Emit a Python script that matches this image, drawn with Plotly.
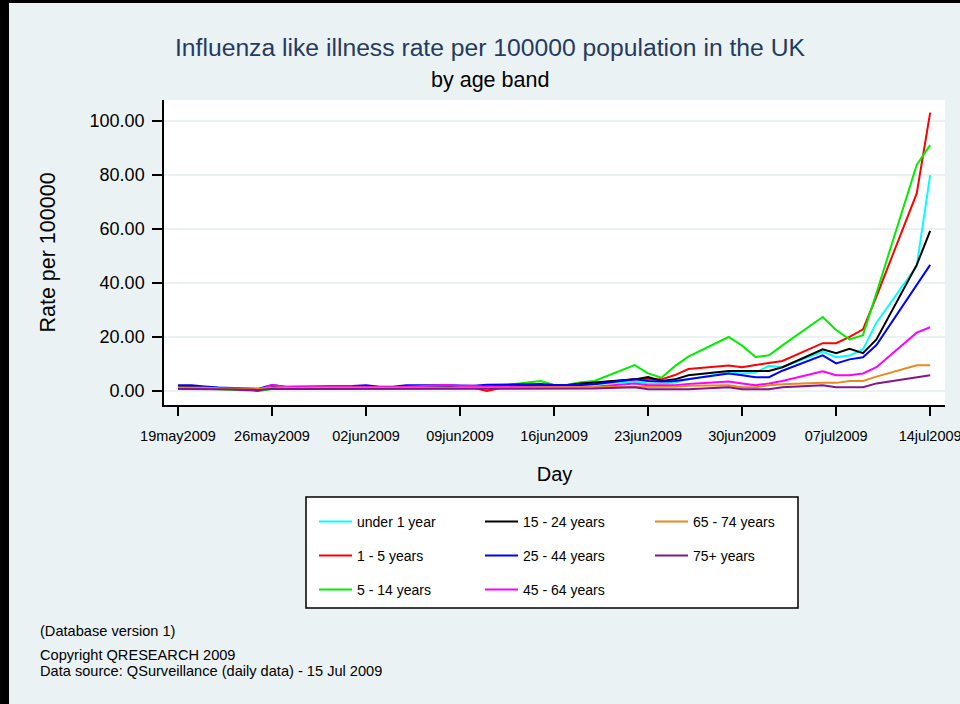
import plotly.graph_objects as go

# Weekday reporting dates (weekends are not reported)
dates = [
    "2009-05-19", "2009-05-20", "2009-05-21", "2009-05-22",
    "2009-05-25", "2009-05-26", "2009-05-27", "2009-05-28", "2009-05-29",
    "2009-06-01", "2009-06-02", "2009-06-03", "2009-06-04", "2009-06-05",
    "2009-06-08", "2009-06-09", "2009-06-10", "2009-06-11", "2009-06-12",
    "2009-06-15", "2009-06-16", "2009-06-17", "2009-06-18", "2009-06-19",
    "2009-06-22", "2009-06-23", "2009-06-24", "2009-06-25", "2009-06-26",
    "2009-06-29", "2009-06-30", "2009-07-01", "2009-07-02", "2009-07-03",
    "2009-07-06", "2009-07-07", "2009-07-08", "2009-07-09", "2009-07-10",
    "2009-07-13", "2009-07-14",
]

# Rate per 100000 by age band
under_1 = [1.6, 1.5, 1.4, 1.2, 0.4, 1.9, 1.4, 1.3, 1.4, 1.6, 1.5, 1.3, 1.3, 1.4,
           1.4, 1.5, 1.6, 1.4, 1.6, 2.0,
           2.2, 2.2, 2.2, 2.6, 3.5, 2.8, 2.8, 3.1, 4.3, 6.8, 6.5, 6.8, 9.3, 8.8,
           14.6, 12.5, 13.1, 15.4, 25.3, 46.3, 80.0]
age_1_5 = [1.3, 1.3, 1.1, 0.9, 0.2, 1.6, 1.1, 1.1, 1.2, 1.3, 1.3, 1.1, 1.1, 1.1,
           1.3, 1.4, 1.2, 0.0, 1.1, 1.6,
           2.0, 2.0, 2.5, 3.0, 4.3, 4.4, 4.3, 5.9, 8.1, 9.4, 8.8, 9.6, 10.4, 11.1,
           17.7, 17.7, 20.0, 22.8, 35.0, 73.2, 103.1]
age_5_14 = [0.9, 0.9, 0.8, 0.6, 0.0, 0.7, 0.7, 0.7, 0.8, 0.9, 1.0, 0.9, 1.0, 1.0,
            1.1, 1.2, 1.2, 1.3, 2.0, 3.7,
            2.2, 2.3, 3.2, 3.7, 9.6, 6.5, 4.9, 9.2, 12.7, 20.0, 16.8, 12.6, 13.2, 16.9,
            27.4, 22.6, 19.1, 20.7, 36.3, 83.7, 91.1]
age_15_24 = [1.6, 1.6, 1.3, 1.0, 0.2, 1.9, 1.3, 1.2, 1.3, 1.5, 1.5, 1.2, 1.2, 1.2,
             1.3, 1.4, 1.5, 1.6, 1.6, 1.9,
             2.2, 2.2, 2.8, 3.1, 4.3, 5.2, 3.7, 4.3, 5.8, 7.4, 7.4, 7.4, 7.4, 8.8,
             15.4, 14.0, 15.6, 14.0, 19.1, 46.7, 59.3]
age_25_44 = [2.1, 2.1, 1.7, 1.3, 0.8, 2.2, 1.6, 1.6, 1.7, 1.8, 2.1, 1.6, 1.6, 2.1,
             2.1, 2.1, 1.9, 2.3, 2.4, 2.6,
             2.2, 2.2, 2.2, 2.5, 4.3, 3.7, 3.5, 3.7, 4.4, 6.5, 5.8, 5.1, 5.1, 7.5,
             13.2, 10.2, 11.7, 12.5, 17.0, 39.3, 46.7]
age_45_64 = [1.1, 1.1, 1.1, 0.9, 0.3, 2.2, 1.5, 1.4, 1.5, 1.6, 1.5, 1.3, 1.4, 1.6,
             2.2, 1.8, 1.9, 1.5, 1.6, 1.6,
             1.4, 1.4, 1.4, 1.6, 2.8, 2.1, 2.1, 2.1, 2.6, 3.5, 2.8, 2.1, 2.8, 3.7,
             7.3, 5.8, 5.8, 6.5, 8.8, 21.6, 23.6]
age_65_74 = [1.3, 1.3, 1.2, 1.0, 0.8, 1.3, 1.1, 1.1, 1.2, 1.2, 1.2, 1.0, 1.1, 1.2,
             1.2, 1.2, 1.2, 1.0, 1.2, 1.4,
             1.4, 1.4, 1.4, 1.5, 1.6, 1.4, 1.6, 1.6, 1.9, 2.1, 1.4, 1.4, 2.1, 2.5,
             3.0, 3.0, 3.7, 3.7, 5.3, 9.5, 9.5]
age_75_plus = [0.7, 0.7, 0.7, 0.6, 0.4, 0.8, 0.7, 0.7, 0.7, 0.8, 0.8, 0.7, 0.7, 0.8,
               0.8, 0.8, 0.8, 0.7, 0.8, 0.9,
               0.9, 0.9, 0.9, 0.9, 1.4, 0.6, 0.6, 0.6, 0.6, 1.4, 0.6, 0.6, 0.6, 1.4,
               2.1, 1.4, 1.4, 1.4, 2.8, 5.1, 5.8]

series_names = ["under 1 year", "1 - 5 years", "5 - 14 years", "15 - 24 years",
                "25 - 44 years", "45 - 64 years", "65 - 74 years", "75+ years"]
series_values = [under_1, age_1_5, age_5_14, age_15_24,
                 age_25_44, age_45_64, age_65_74, age_75_plus]

tick_vals = ["2009-05-19", "2009-05-26", "2009-06-02", "2009-06-09", "2009-06-16",
             "2009-06-23", "2009-06-30", "2009-07-07", "2009-07-14"]
tick_text = ["19may2009", "26may2009", "02jun2009", "09jun2009", "16jun2009",
             "23jun2009", "30jun2009", "07jul2009", "14jul2009"]
y_ticks = [0, 20, 40, 60, 80, 100]

# Styling
colors = ["#00FFFF", "#FF0000", "#00EE00", "#000000",
          "#0000FF", "#FF00FF", "#E8891E", "#85158A"]
FONT = "Liberation Sans, Arial, sans-serif"
BG = "#EAF2F3"

W, H = 960, 704
ML, MR, MT, MB = 164, 15, 100, 299
PW, PH = W - ML - MR, H - MT - MB


def px(x):
    return (x - ML) / PW


def py(y):
    return (H - MB - y) / PH


# Legend grid: column-major, three rows
leg_cols = [314, 480, 650]
leg_rows = [522, 556, 590]

fig = go.Figure()
legends = {}
for i, (name, vals, col) in enumerate(zip(series_names, series_values, colors)):
    key = "legend" if i == 0 else f"legend{i + 1}"
    fig.add_trace(go.Scatter(
        x=dates, y=vals, mode="lines", name=name,
        line=dict(color=col, width=2),
        legend=key,
    ))
    c, r = divmod(i, 3)
    legends[key] = dict(
        x=px(leg_cols[c]), y=py(leg_rows[r]),
        xanchor="left", yanchor="middle",
        bgcolor="rgba(0,0,0,0)", borderwidth=0,
        font=dict(family=FONT, size=14, color="black"),
        itemwidth=33, orientation="v",
    )

fig.update_layout(
    width=W, height=H,
    margin=dict(l=ML, r=MR, t=MT, b=MB, autoexpand=False),
    paper_bgcolor=BG, plot_bgcolor="white",
    font=dict(family=FONT, color="black"),
    showlegend=True,
    **legends,
)

fig.update_xaxes(
    type="date",
    range=["2009-05-17 23:00", "2009-07-15 02:30"],
    tickvals=tick_vals, ticktext=tick_text,
    ticks="outside", ticklen=9, tickwidth=1.5, tickcolor="black",
    showline=True, linecolor="black", linewidth=1.5,
    showgrid=False, zeroline=False,
    tickfont=dict(family=FONT, size=14.5, color="black"),
    ticklabelstandoff=8, ticklabeloverflow="allow",
    title=dict(text="Day", font=dict(family=FONT, size=20, color="black"), standoff=24),
)
fig.update_yaxes(
    range=[-5.2, 107.8],
    tickvals=y_ticks, tickformat=".2f",
    ticks="outside", ticklen=10, tickwidth=1.5, tickcolor="black",
    showline=True, linecolor="black", linewidth=1.5,
    showgrid=True, gridcolor=BG, gridwidth=1.5, zeroline=False,
    tickfont=dict(family=FONT, size=18, color="black"),
    ticklabelstandoff=4,
    title=dict(text="Rate per 100000", font=dict(family=FONT, size=21.5, color="black"), standoff=28),
)

annotations = [
    dict(text="Influenza like illness rate per 100000 population in the UK",
         x=px(490), y=py(48), font=dict(family=FONT, size=24.7, color="#263a60")),
    dict(text="by age band", x=px(490), y=py(80),
         font=dict(family=FONT, size=21.5, color="black")),
    dict(text="(Database version 1)", x=px(38), y=py(631), xanchor="left",
         font=dict(family=FONT, size=14.6, color="black")),
    dict(text="Copyright QRESEARCH 2009", x=px(38), y=py(655), xanchor="left",
         font=dict(family=FONT, size=14.6, color="black")),
    dict(text="Data source: QSurveillance (daily data) - 15 Jul 2009", x=px(38), y=py(671),
         xanchor="left", font=dict(family=FONT, size=14.6, color="black")),
]
for a in annotations:
    a.setdefault("xanchor", "center")
    fig.add_annotation(xref="paper", yref="paper", showarrow=False, yanchor="middle", **a)

shapes = [
    # legend frame
    dict(type="rect", x0=px(306), x1=px(798), y0=py(608), y1=py(497),
         line=dict(color="black", width=1.5), fillcolor="white"),
    # outer frame edges
    dict(type="rect", x0=px(0), x1=px(9), y0=py(H), y1=py(0),
         line=dict(width=0), fillcolor="black"),
    dict(type="rect", x0=px(0), x1=px(W), y0=py(3), y1=py(0),
         line=dict(width=0), fillcolor="black"),
]
for s in shapes:
    fig.add_shape(xref="paper", yref="paper", layer="above", **s)

fig.write_html("out.html")
